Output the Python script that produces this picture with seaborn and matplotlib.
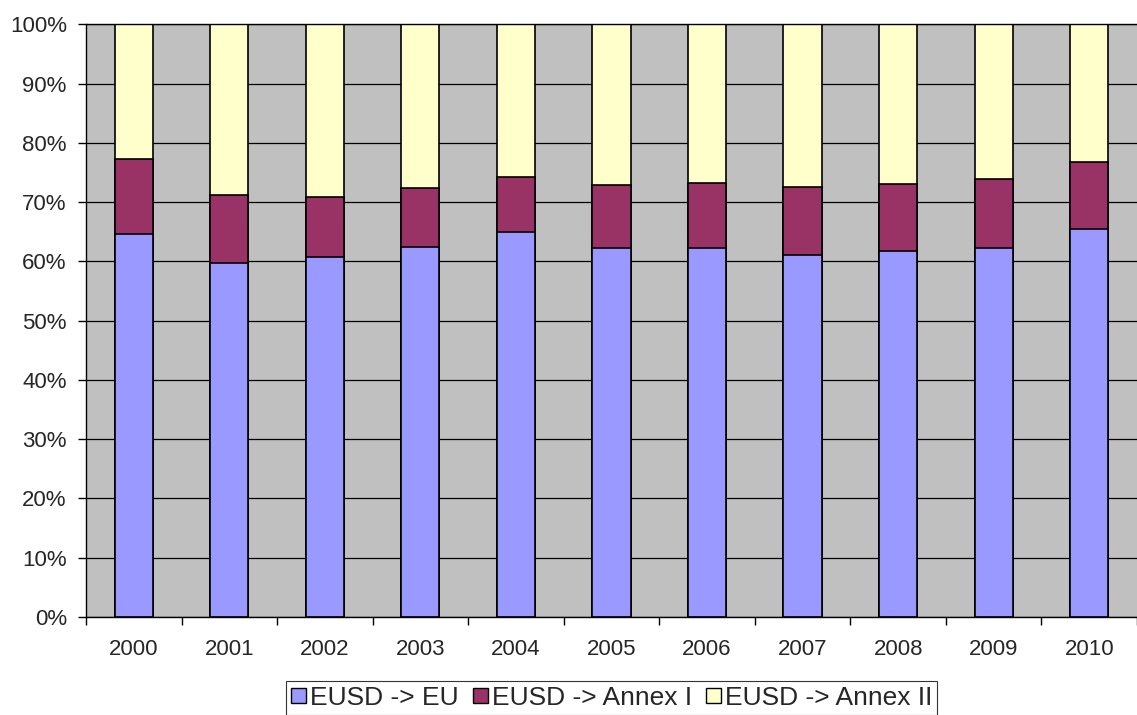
import matplotlib
matplotlib.use("Agg")
import matplotlib.pyplot as plt
import seaborn as sns
import numpy as np
import pandas as pd
from matplotlib.patches import Patch
from matplotlib.ticker import FixedLocator

years = ["2000", "2001", "2002", "2003", "2004", "2005", "2006", "2007", "2008", "2009", "2010"]
eu = [64.6, 59.7, 60.7, 62.4, 65.0, 62.3, 62.2, 61.0, 61.7, 62.3, 65.5]
annex_1 = [12.6, 11.5, 10.2, 10.0, 9.2, 10.6, 11.1, 11.6, 11.4, 11.6, 11.2]
annex_2 = [22.8, 28.8, 29.1, 27.6, 25.8, 27.1, 26.7, 27.4, 26.9, 26.1, 23.3]
series = ["EUSD -> EU", "EUSD -> Annex I", "EUSD -> Annex II"]
colors = ["#9999FF", "#993366", "#FFFFCC"]
y_labels = [f"{v}%" for v in range(0, 101, 10)]

sns.set_theme(style="white")
plt.rcParams["font.family"] = ["Liberation Sans", "DejaVu Sans"]

# percent-stacked: each year normalised to 100
df = pd.DataFrame({"year": years, "eu": eu, "a1": annex_1, "a2": annex_2})
tot = df[["eu", "a1", "a2"]].sum(axis=1)
df["c1"] = df["eu"] / tot * 100
df["c2"] = (df["eu"] + df["a1"]) / tot * 100
df["c3"] = 100.0

fig = plt.figure(figsize=(11.37, 7.15), dpi=100)
ax = fig.add_axes([0.0756, 0.137, 0.9244, 0.829])
ax.set_facecolor("#C0C0C0")
ax.set_axisbelow(True)
ax.yaxis.grid(True, color="black", linewidth=0.9)

for col, c in zip(["c3", "c2", "c1"], colors[::-1]):
    sns.barplot(data=df, x="year", y=col, color=c, width=0.4, saturation=1,
                edgecolor="black", linewidth=1.2, ax=ax)

ax.set_xlim(-0.5, len(years) - 0.5)
ax.set_ylim(0, 100)
ax.set_yticks(np.arange(0, 101, 10))
ax.set_yticklabels(y_labels, fontsize=16)
ax.tick_params(axis="y", direction="out", length=5.8, width=1, color="black", left=True, pad=8)
ax.tick_params(axis="x", which="major", length=0, labelsize=16, pad=16)
ax.xaxis.set_minor_locator(FixedLocator(np.arange(-0.5, len(years), 1.0)))
ax.tick_params(axis="x", which="minor", direction="out", length=6, width=1, color="black", bottom=True)
ax.set_xlabel("")
ax.set_ylabel("")

for s in ["top", "right"]:
    ax.spines[s].set_visible(False)
for s in ["left", "bottom"]:
    ax.spines[s].set_color("black")
    ax.spines[s].set_linewidth(1)
ax.plot([-0.5, len(years) - 0.5], [100, 100], color="black", lw=1, clip_on=False)

handles = [Patch(facecolor=c, edgecolor="black", label=s) for s, c in zip(series, colors)]
leg = fig.legend(handles=handles, loc="center", bbox_to_anchor=(0.538, 0.024), ncol=3,
                 frameon=True, fancybox=False, fontsize=19, handlelength=0.55, handleheight=0.55,
                 handletextpad=0.15, columnspacing=0.55, borderpad=0.2, borderaxespad=0)
leg.get_frame().set_edgecolor("black")
leg.get_frame().set_linewidth(0.8)

fig.savefig("out.png", dpi=100)
